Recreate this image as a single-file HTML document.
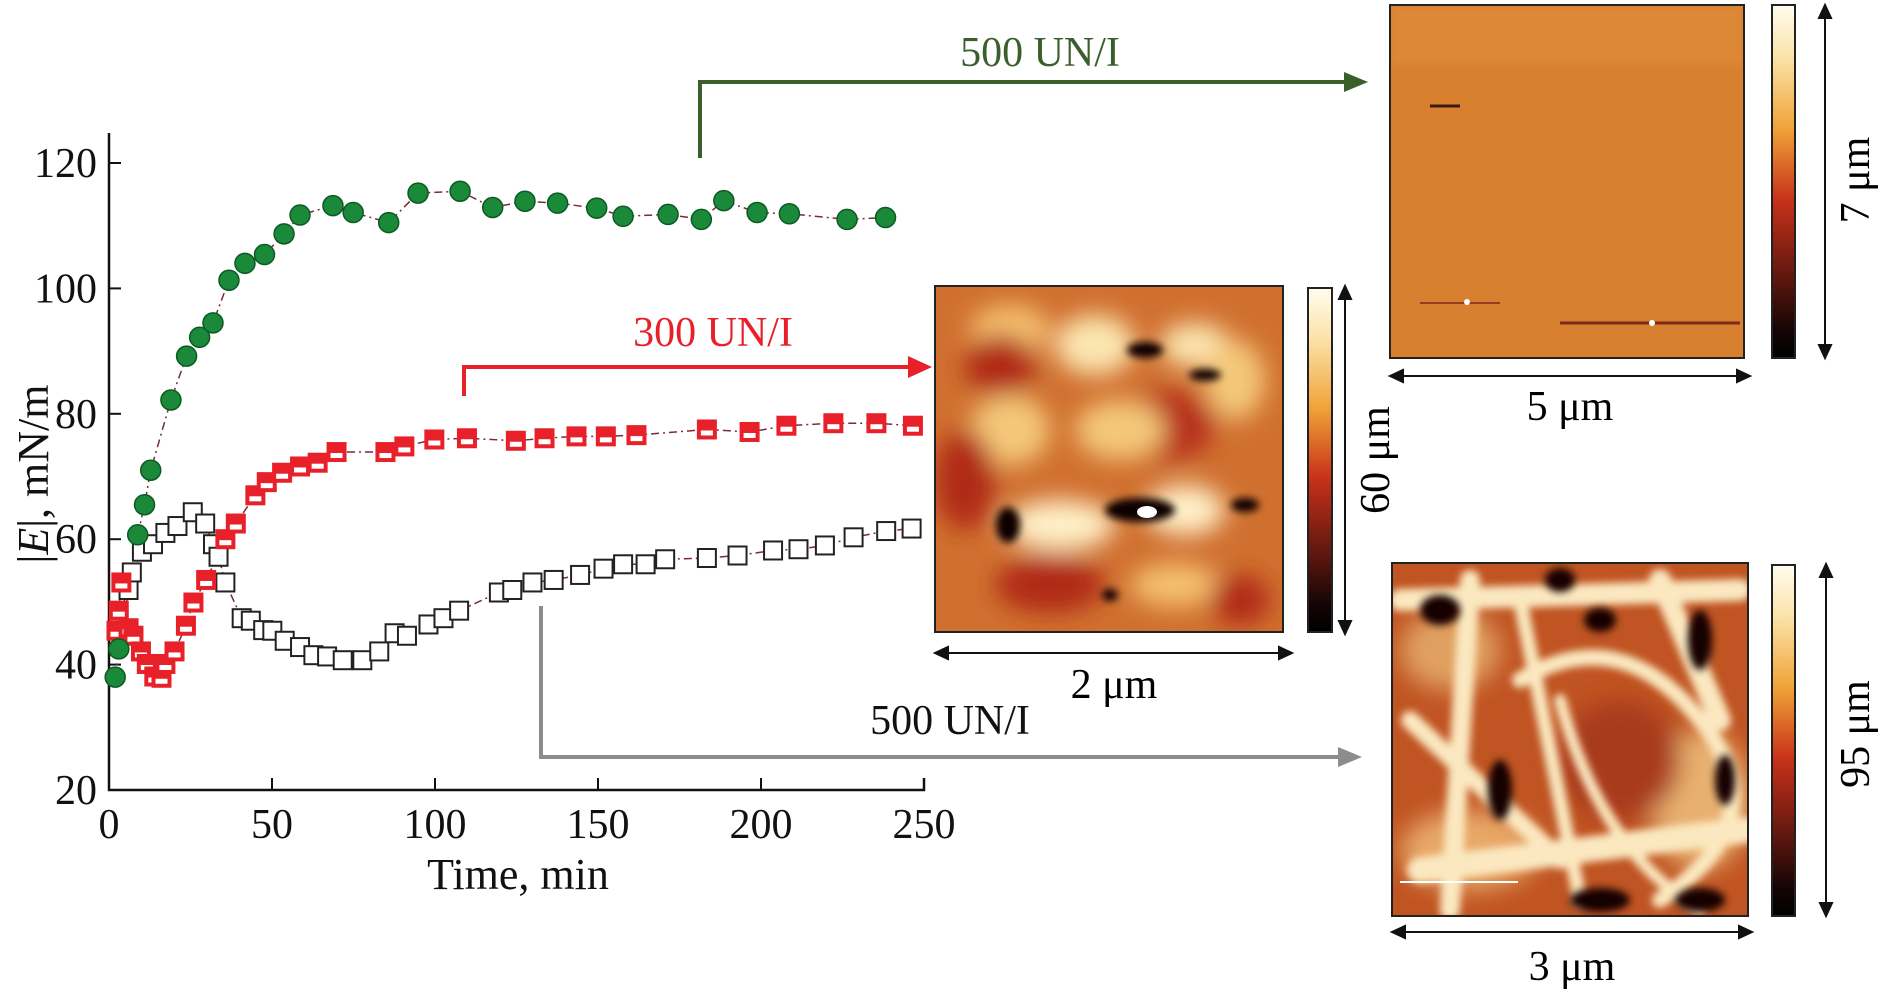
<!DOCTYPE html>
<html><head><meta charset="utf-8">
<style>
html,body{margin:0;padding:0;background:#fff;}
svg{display:block;font-family:"Liberation Serif",serif;}
</style></head>
<body>
<svg id="fig" width="1882" height="991" viewBox="0 0 1882 991" xmlns="http://www.w3.org/2000/svg">
<defs>
<linearGradient id="cbar" x1="0" y1="0" x2="0" y2="1">
<stop offset="0" stop-color="#fffdf0"/><stop offset="0.15" stop-color="#fbe2a8"/>
<stop offset="0.35" stop-color="#f0a338"/><stop offset="0.55" stop-color="#c8321a"/>
<stop offset="0.75" stop-color="#6a1a10"/><stop offset="0.92" stop-color="#150505"/><stop offset="1" stop-color="#000"/>
</linearGradient>
<filter id="blur6"><feGaussianBlur stdDeviation="12"/></filter>
<filter id="blur3"><feGaussianBlur stdDeviation="4"/></filter>
<clipPath id="c1"><rect x="1390" y="5" width="354" height="353"/></clipPath>
<clipPath id="c2"><rect x="935" y="286" width="348" height="346"/></clipPath>
<clipPath id="c3"><rect x="1392" y="563" width="356" height="353"/></clipPath>
</defs>

<g id="plot"></g>

<g stroke="#3b5f2a" stroke-width="4" fill="none">
<polyline points="700,158 700,82 1350,82"/>
<polygon points="1368,82 1344,72 1344,92" fill="#3b5f2a" stroke="none"/>
</g>
<text x="1040" y="66" font-size="42" fill="#3b5f2a" text-anchor="middle">500 UN/I</text>
<g stroke="#e8202a" stroke-width="4" fill="none">
<polyline points="464,396 464,367 912,367"/>
<polygon points="932,367 908,356 908,378" fill="#e8202a" stroke="none"/>
</g>
<text x="713" y="346" font-size="42" fill="#e8202a" text-anchor="middle">300 UN/I</text>
<g stroke="#8c8c8c" stroke-width="4" fill="none">
<polyline points="541,606 541,757 1342,757"/>
<polygon points="1362,757 1338,747 1338,767" fill="#8c8c8c" stroke="none"/>
</g>
<text x="950" y="734" font-size="42" fill="#111" text-anchor="middle">500 UN/I</text>

<g clip-path="url(#c1)">
<rect x="1390" y="5" width="354" height="353" fill="#d97f30"/>
<rect x="1390" y="5" width="354" height="60" fill="#e0913e" opacity="0.5" filter="url(#blur3)"/>
<line x1="1430" y1="106" x2="1460" y2="106" stroke="#3a1a10" stroke-width="3"/>
<line x1="1560" y1="323" x2="1740" y2="323" stroke="#7a2a18" stroke-width="3"/>
<line x1="1420" y1="303" x2="1500" y2="303" stroke="#9a3a20" stroke-width="2"/>
<circle cx="1652" cy="323" r="3" fill="#fff"/><circle cx="1467" cy="302" r="3" fill="#fff"/>
</g>
<rect x="1390" y="5" width="354" height="353" fill="none" stroke="#222" stroke-width="2"/>
<rect x="1772" y="5" width="23" height="353" fill="url(#cbar)" stroke="#222" stroke-width="2"/>
<g stroke="#111" stroke-width="2" fill="#111">
<line x1="1825" y1="10" x2="1825" y2="352"/><polygon points="1825,5 1819,18 1831,18"/><polygon points="1825,358 1819,345 1831,345"/>
<line x1="1396" y1="376" x2="1744" y2="376"/><polygon points="1390,376 1403,370 1403,382"/><polygon points="1750,376 1737,370 1737,382"/>
</g>
<text x="1570" y="420" font-size="42" text-anchor="middle">5 μm</text>
<text transform="translate(1869,180) rotate(-90)" font-size="42" text-anchor="middle">7 μm</text>

<g clip-path="url(#c2)">
<rect x="935" y="286" width="348" height="346" fill="#d07030"/>
<g filter="url(#blur6)">
<ellipse cx="1010" cy="330" rx="40" ry="25" fill="#f4c070"/>
<ellipse cx="1095" cy="345" rx="40" ry="30" fill="#fbe6b0"/>
<ellipse cx="1195" cy="345" rx="35" ry="22" fill="#fbe6b0"/>
<ellipse cx="1000" cy="365" rx="35" ry="30" fill="#b02a18"/>
<ellipse cx="1170" cy="425" rx="45" ry="35" fill="#b8301a"/>
<ellipse cx="1010" cy="430" rx="40" ry="35" fill="#f4c878"/>
<ellipse cx="1120" cy="430" rx="45" ry="30" fill="#f4c878"/>
<ellipse cx="1235" cy="380" rx="30" ry="40" fill="#f4c878"/>
<ellipse cx="965" cy="480" rx="30" ry="50" fill="#b02a18"/>
<ellipse cx="1060" cy="525" rx="55" ry="25" fill="#fff0c8"/>
<ellipse cx="1185" cy="510" rx="40" ry="25" fill="#fff0c8"/>
<ellipse cx="1050" cy="585" rx="55" ry="28" fill="#b02a18"/>
<ellipse cx="1175" cy="585" rx="45" ry="22" fill="#f4c070"/>
<ellipse cx="1240" cy="600" rx="30" ry="25" fill="#b02a18"/>
</g>
<g filter="url(#blur3)" fill="#100404">
<ellipse cx="1145" cy="350" rx="18" ry="8"/><ellipse cx="1205" cy="375" rx="16" ry="6"/>
<ellipse cx="1008" cy="525" rx="12" ry="18"/><ellipse cx="1140" cy="510" rx="35" ry="12"/>
<ellipse cx="1245" cy="505" rx="14" ry="7"/><ellipse cx="1110" cy="595" rx="8" ry="6"/>
</g>
<ellipse cx="1147" cy="512" rx="10" ry="6" fill="#fff"/>
</g>
<rect x="935" y="286" width="348" height="346" fill="none" stroke="#222" stroke-width="2"/>
<rect x="1308" y="288" width="24" height="344" fill="url(#cbar)" stroke="#222" stroke-width="2"/>
<g stroke="#111" stroke-width="2" fill="#111">
<line x1="1345" y1="292" x2="1345" y2="628"/><polygon points="1345,286 1339,299 1351,299"/><polygon points="1345,634 1339,621 1351,621"/>
<line x1="941" y1="653" x2="1286" y2="653"/><polygon points="935,653 948,647 948,659"/><polygon points="1292,653 1279,647 1279,659"/>
</g>
<text x="1114" y="698" font-size="42" text-anchor="middle">2 μm</text>
<text transform="translate(1389,460) rotate(-90)" font-size="42" text-anchor="middle">60 μm</text>

<g clip-path="url(#c3)">
<rect x="1392" y="563" width="356" height="353" fill="#c05422"/>
<g filter="url(#blur6)">
<ellipse cx="1450" cy="650" rx="50" ry="40" fill="#e0a060"/>
<ellipse cx="1700" cy="800" rx="50" ry="70" fill="#e8b070"/>
<ellipse cx="1470" cy="850" rx="70" ry="40" fill="#e8a868"/>
<ellipse cx="1620" cy="760" rx="60" ry="60" fill="#a83a1a"/>
</g>
<g filter="url(#blur3)" stroke="#fbe8c0" stroke-linecap="round" fill="none">
<path d="M1400,600 L1740,590" stroke-width="22"/>
<path d="M1420,870 L1745,830" stroke-width="26"/>
<path d="M1520,680 Q1620,620 1700,720 T1660,900" stroke-width="16"/>
<path d="M1470,580 L1450,910" stroke-width="20"/>
<path d="M1560,700 Q1600,850 1700,910" stroke-width="12"/>
<path d="M1660,580 L1720,720" stroke-width="22"/>
<path d="M1410,720 L1560,860" stroke-width="18"/>
<path d="M1520,600 L1580,900" stroke-width="14"/>
</g>
<g filter="url(#blur3)" fill="#120404">
<ellipse cx="1440" cy="610" rx="20" ry="15"/><ellipse cx="1560" cy="580" rx="15" ry="12"/>
<ellipse cx="1600" cy="620" rx="16" ry="12"/><ellipse cx="1700" cy="640" rx="12" ry="30"/>
<ellipse cx="1725" cy="780" rx="10" ry="25"/><ellipse cx="1500" cy="790" rx="12" ry="30"/>
<ellipse cx="1600" cy="900" rx="30" ry="12"/><ellipse cx="1700" cy="900" rx="25" ry="12"/>
</g>
<line x1="1400" y1="882" x2="1518" y2="882" stroke="#fff" stroke-width="2"/>
</g>
<rect x="1392" y="563" width="356" height="353" fill="none" stroke="#222" stroke-width="2"/>
<rect x="1772" y="565" width="23" height="351" fill="url(#cbar)" stroke="#222" stroke-width="2"/>
<g stroke="#111" stroke-width="2" fill="#111">
<line x1="1826" y1="570" x2="1826" y2="910"/><polygon points="1826,564 1820,577 1832,577"/><polygon points="1826,916 1820,903 1832,903"/>
<line x1="1398" y1="932" x2="1746" y2="932"/><polygon points="1392,932 1405,926 1405,938"/><polygon points="1752,932 1739,926 1739,938"/>
</g>
<text x="1572" y="980" font-size="42" text-anchor="middle">3 μm</text>
<text transform="translate(1869,734) rotate(-90)" font-size="42" text-anchor="middle">95 μm</text>
</svg>

<script>
const xTicks = [0, 50, 100, 150, 200, 250];
const yTicks = [20, 40, 60, 80, 100, 120];
const greenT = [1.9,3,8.8,10.9,12.8,19,23.8,27.8,31.9,36.8,41.7,47.7,53.7,58.6,68.7,74.9,85.8,94.8,107.7,117.7,127.6,137.6,149.6,157.7,171.5,181.7,188.6,198.8,208.7,226.4,238.2];
const greenV = [38,42.5,60.7,65.5,71,82.2,89.2,92.2,94.5,101.3,104,105.4,108.7,111.7,113.2,112.1,110.5,115.2,115.5,112.9,113.9,113.6,112.8,111.5,111.8,111,114,112.1,111.9,111,111.3];
const redT = [2.3,3,3.8,6,7.5,9.8,11.6,13.9,16.1,17.3,20.1,23.6,25.9,29.8,35.7,38.9,44.9,48.4,53.1,58.6,64,69.8,84.8,90.6,99.8,109.8,124.8,133.6,143.4,152.4,161.8,183.4,196.5,207.8,222.2,235.4,246.6];
const redV = [45.4,48.6,53.1,45.8,44.6,42.1,40.1,38.1,37.9,40.1,42.1,46.2,49.9,53.5,60,62.5,67,69.1,70.6,71.6,72.2,73.9,73.9,74.8,75.9,76.1,75.7,76.1,76.4,76.4,76.6,77.5,77.1,78.1,78.5,78.5,78.1];
const blackT = [6,7,10.1,13.5,17.3,21,25.7,29.5,31.9,33.6,35.7,40.7,43.5,47.3,50.1,53.9,58.6,62.7,66.9,71.7,77.7,82.9,87.6,91.4,98,102.6,107.4,119.6,123.7,129.9,136.4,144.5,151.7,157.7,164.6,170.6,183.4,192.8,203.7,211.5,219.6,228.4,238.4,246.2];
const blackV = [51.9,54.7,58,59.2,61,62.1,64.3,62.5,59.2,57.2,53.1,47.4,47,45.5,45.4,43.8,42.8,41.5,41.3,40.7,40.7,42.1,45,44.6,46.4,47.4,48.6,51.5,51.9,53.1,53.5,54.3,55.3,56,56,56.8,57,57.4,58.2,58.4,59,60.3,61.3,61.7];

const NS = 'http://www.w3.org/2000/svg';
const X0 = 109, X1 = 924, Y0 = 790, Y1 = 163;
function sx(t){ return X0 + (t - 0) / 250 * (X1 - X0); }
function sy(v){ return Y0 - (v - 20) / 100 * (Y0 - Y1); }
const g = document.getElementById('plot');
function mk(tag, attrs){ const e = document.createElementNS(NS, tag); for (const k in attrs) e.setAttribute(k, attrs[k]); g.appendChild(e); return e; }

let ax = mk('path', {d:`M${X0},${Y1-30} L${X0},${Y0} L${X1},${Y0} L${X1},${Y0-12}`, fill:'none', stroke:'#111', 'stroke-width':2.5});


xTicks.forEach(t => {
  const l = mk('line', {x1:sx(t), x2:sx(t), y1:Y0, y2:Y0-12, stroke:'#111', 'stroke-width':2});
  
  
  const tx = mk('text', {x:sx(t), y:Y0+48, 'font-size':42, 'text-anchor':'middle', fill:'#111'});
  tx.textContent = t;
  
  
});
yTicks.forEach(v => {
  const l = mk('line', {x1:X0, x2:X0+12, y1:sy(v), y2:sy(v), stroke:'#111', 'stroke-width':2});
  
  
  const tx = mk('text', {x:X0-12, y:sy(v)+14, 'font-size':42, 'text-anchor':'end', fill:'#111'});
  tx.textContent = v;
  
  
});
const xt = mk('text', {x:518, y:889, 'font-size':44, 'text-anchor':'middle', fill:'#111'});
xt.textContent = 'Time, min';


const yt = mk('text', {transform:'translate(48,474) rotate(-90)', 'font-size':44, 'text-anchor':'middle', fill:'#111'});
yt.innerHTML = '|<tspan font-style="italic">E</tspan>|, mN/m';



function line(T, V, name){
  const p = mk('polyline', {points:T.map((t,i)=>sx(t)+','+sy(V[i])).join(' '), fill:'none', stroke:'#7a2a3a', 'stroke-width':1.5, 'stroke-dasharray':'8 4 2 4'});
  
  
}
line(blackT, blackV, 'line-black');
line(redT, redV, 'line-red');
line(greenT, greenV, 'line-green');
blackT.forEach((t,i) => {
  const r = mk('rect', {x:sx(t)-9, y:sy(blackV[i])-9, width:18, height:18, fill:'#fff', stroke:'#222', 'stroke-width':2});
  
  
});
redT.forEach((t,i) => {
  const r = mk('rect', {x:sx(t)-9, y:sy(redV[i])-9, width:18, height:18, fill:'#e8202a', stroke:'#e8202a', 'stroke-width':2});
  
  
  const w = mk('rect', {x:sx(t)-6, y:sy(redV[i])+1, width:12, height:5, fill:'#fff'});
  
  
});
greenT.forEach((t,i) => {
  const c = mk('circle', {cx:sx(t), cy:sy(greenV[i]), r:10, fill:'#1a8a3a', stroke:'#0c5a22', 'stroke-width':1.5});
  
  
});
</script>
</body></html>
